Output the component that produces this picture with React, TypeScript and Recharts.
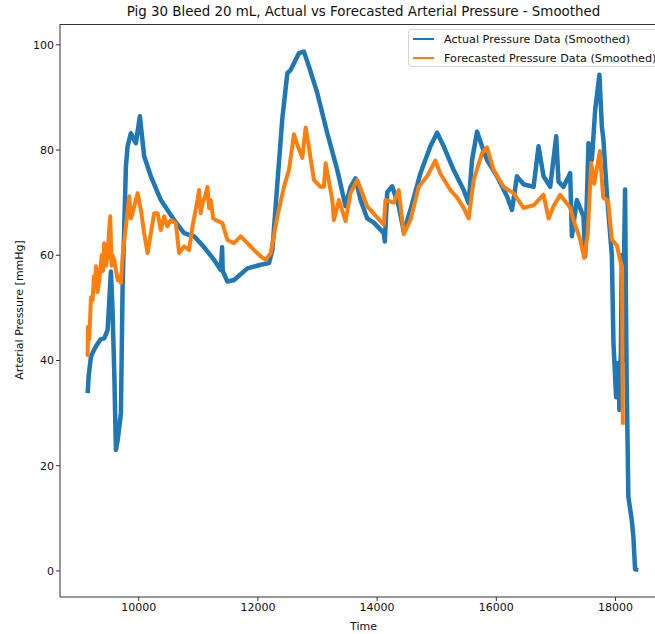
import React from "react";
import { LineChart, Line, XAxis, YAxis, Label } from "recharts";

// time / pressure pairs
const actualTime = [
    9144, 9160, 9199, 9250, 9300, 9360, 9422, 9479, 9510, 9534, 9560, 9590, 9618, 9650, 9702,
    9730, 9786, 9814, 9869, 9953, 10020, 10092, 10204, 10372, 10595, 10762, 10930, 11100, 11265,
    11377, 11400, 11410, 11489, 11600, 11824, 12047, 12186, 12243, 12327, 12410, 12494, 12549,
    12688, 12772, 12856, 12997, 13164, 13332, 13471, 13554, 13638, 13722, 13834, 13945, 14112,
    14129, 14170, 14253, 14363, 14447, 14559, 14727, 14894, 15007, 15117, 15284, 15452, 15536,
    15593, 15677, 15760, 15844, 16011, 16179, 16263, 16346, 16457, 16625, 16708, 16792, 16904,
    17005, 17043, 17127, 17239, 17268, 17351, 17462, 17491, 17546, 17603, 17658, 17730, 17770,
    17797, 17854, 17938, 17965, 18010, 18048, 18065, 18089, 18105, 18120, 18132, 18160, 18175,
    18188, 18215, 18272, 18299, 18328, 18383,
];
const actualValues = [
    33.8, 37, 40.7, 42, 43, 44, 44.2, 45.8, 52, 56.9, 50, 38, 23, 25, 30,
    54, 76.9, 80.7, 83.2, 81.3, 86.4, 78.8, 75, 70.5, 66.7, 64.2, 63.6, 61.5, 59.1,
    57.2, 61.5, 57, 55, 55.3, 57.5, 58.2, 58.5, 61, 73.7, 86, 94.6, 95.2,
    98.4, 98.7, 95.9, 90.8, 83.2, 76.2, 69.3, 73, 74.6, 70.5, 67, 66.2, 64.2,
    62.6, 72, 73.1, 69.3, 64.5, 68.6, 75.6, 80.7, 83.3, 80.7, 76.2, 72.4, 69.9,
    78.1, 83.5, 80.7, 78.1, 75, 71.2, 68.6, 75, 73.5, 73, 80.7, 75, 73,
    82.6, 74, 73, 75.6, 63.6, 70.5, 67.4, 59.8, 81.3, 78.1, 87.6, 94.3, 84.5,
    81.9, 71.8, 60, 43.3, 33, 39.5, 30.6, 41.4, 60, 40, 52, 72.5, 50,
    35, 14.1, 9.7, 6.5, 0.3, 0.2,
];

const forecastTime = [
    9144, 9150, 9170, 9200, 9228, 9250, 9270, 9283, 9310, 9338, 9380, 9400, 9422, 9450, 9479,
    9500, 9523, 9545, 9560, 9590, 9620, 9647, 9680, 9702, 9730, 9786, 9841, 9870,
    9898, 9940, 9982, 10037, 10092, 10149, 10204, 10260, 10317, 10372, 10427, 10480, 10539, 10623,
    10678, 10762, 10846, 10903, 10987, 11013, 11040, 11070, 11110, 11154, 11180, 11209, 11250,
    11293, 11405, 11489, 11600, 11712, 11824, 11935, 12047, 12131, 12214, 12327, 12437, 12521,
    12605, 12662, 12745, 12801, 12856, 12940, 13052, 13107, 13136, 13248, 13275, 13359, 13471,
    13554, 13667, 13834, 14112, 14141, 14280, 14363, 14447, 14559, 14698, 14839, 14978, 15062,
    15229, 15341, 15452, 15536, 15620, 15760, 15844, 15955, 16122, 16289, 16457, 16625, 16792,
    16876, 16960, 17072, 17239, 17295, 17407, 17474, 17534, 17591, 17642, 17737, 17792, 17876,
    17938, 18026, 18077, 18110, 18115, 18122,
];
const forecastValues = [
    40.7, 46.4, 44, 52, 51.5, 56, 54, 57.9, 53, 55.3, 60, 57, 62.3, 58, 59.8,
    64, 67.4, 58, 60, 59.1, 57, 55.3, 56, 54.7, 59.8, 65.5, 71.2, 67,
    68, 70, 71.8, 68.6, 64.2, 60.4, 64.2, 68, 68, 64.8, 67.4, 65.5, 66.7, 66.1,
    60.4, 61.7, 61, 65.5, 70.5, 72.4, 68, 69.9, 71, 73, 69, 70.5, 67,
    66.7, 66.1, 62.9, 62.3, 63.6, 62.3, 61, 59.8, 59.1, 60.4, 67.4, 73, 76.2,
    83, 81, 78.5, 84.3, 80.5, 74.3, 73, 73, 77.5, 70.5, 66.7, 70.5, 66.5,
    71.8, 74.3, 69.3, 65.8, 70.5, 70, 72.4, 64, 66.7, 73, 75, 78, 75.5,
    72.4, 71, 69, 67, 74.3, 79.4, 80.5, 76.2, 73, 71.8, 69, 69.5, 71.5,
    67, 69.3, 71.5, 69, 66.7, 63, 59.5, 64, 77.6, 73.6, 79.8, 71, 70.3,
    63, 61.8, 59, 57.8, 41, 27.8,
];

const xTicks = [10000, 12000, 14000, 16000, 18000];
const yTicks = [0, 20, 40, 60, 80, 100];

const seriesNames = ["Actual Pressure Data (Smoothed)", "Forecasted Pressure Data (Smoothed)"];
const COLORS = ["#1f77b4", "#ff7f0e"];
const FONT = "'DejaVu Sans', sans-serif";

const actualData = actualTime.map((t, i) => ({ t, v: actualValues[i] }));
const forecastData = forecastTime.map((t, i) => ({ t, v: forecastValues[i] }));

export default function App() {
    return (
        <div
            style={{
                position: "absolute",
                left: 0,
                top: 0,
                width: 655,
                height: 634,
                overflow: "hidden",
                background: "#fff",
                fontFamily: FONT,
            }}
        >
            <div
                style={{
                    position: "absolute",
                    left: 60,
                    top: 2,
                    width: 607,
                    textAlign: "center",
                    fontSize: 13.4,
                    lineHeight: "20px",
                    color: "#111",
                }}
            >
                Pig 30 Bleed 20 mL, Actual vs Forecasted Arterial Pressure - Smoothed
            </div>
            <LineChart
                width={690}
                height={634}
                margin={{ top: 24, right: 22.6, bottom: 0, left: 0 }}
                style={{ fontFamily: FONT }}
            >
                <XAxis
                    type="number"
                    dataKey="t"
                    domain={[8680, 18870]}
                    ticks={xTicks}
                    allowDataOverflow
                    height={37}
                    tickSize={4}
                    stroke="#333"
                    tick={{ fontSize: 11, fill: "#111" }}
                >
                    <Label
                        content={() => (
                            <text
                                x={363.5}
                                y={626}
                                textAnchor="middle"
                                dominantBaseline="central"
                                fontSize={11}
                                fill="#111"
                            >
                                Time
                            </text>
                        )}
                    />
                </XAxis>
                <YAxis
                    type="number"
                    domain={[-4.95, 103.95]}
                    ticks={yTicks}
                    allowDataOverflow
                    width={60}
                    tickSize={4}
                    stroke="#333"
                    tick={{ fontSize: 11, fill: "#111" }}
                >
                    <Label
                        content={() => (
                            <text
                                x={19}
                                y={310}
                                transform="rotate(-90 19 310)"
                                textAnchor="middle"
                                dominantBaseline="central"
                                fontSize={11}
                                fill="#111"
                            >
                                Arterial Pressure [mmHg]
                            </text>
                        )}
                    />
                </YAxis>
                <Line
                    data={actualData}
                    dataKey="v"
                    type="linear"
                    stroke={COLORS[0]}
                    strokeWidth={4.5}
                    strokeLinejoin="round"
                    dot={false}
                    isAnimationActive={false}
                />
                <Line
                    data={forecastData}
                    dataKey="v"
                    type="linear"
                    stroke={COLORS[1]}
                    strokeWidth={4}
                    strokeLinejoin="round"
                    dot={false}
                    isAnimationActive={false}
                />
            </LineChart>
            {/* top spine, matplotlib style */}
            <div
                style={{
                    position: "absolute",
                    left: 60,
                    top: 24,
                    width: 640,
                    height: 573,
                    borderTop: "1px solid #333",
                    boxSizing: "border-box",
                    pointerEvents: "none",
                }}
            />
            <div
                style={{
                    position: "absolute",
                    left: 408,
                    top: 29,
                    width: 256,
                    height: 38,
                    border: "1px solid #d5d5d5",
                    borderRadius: 3,
                    background: "rgba(255,255,255,0.8)",
                    boxSizing: "border-box",
                }}
            >
                {seriesNames.map((name, i) => (
                    <div
                        key={name}
                        style={{
                            position: "absolute",
                            left: 4,
                            top: 0 + i * 19,
                            height: 18,
                            display: "flex",
                            alignItems: "center",
                            whiteSpace: "nowrap",
                            fontSize: 11.2,
                            color: "#111",
                        }}
                    >
                        <span
                            style={{
                                display: "inline-block",
                                width: 21,
                                height: 2,
                                background: COLORS[i],
                                marginRight: 10,
                            }}
                        />
                        {name}
                    </div>
                ))}
            </div>
        </div>
    );
}
